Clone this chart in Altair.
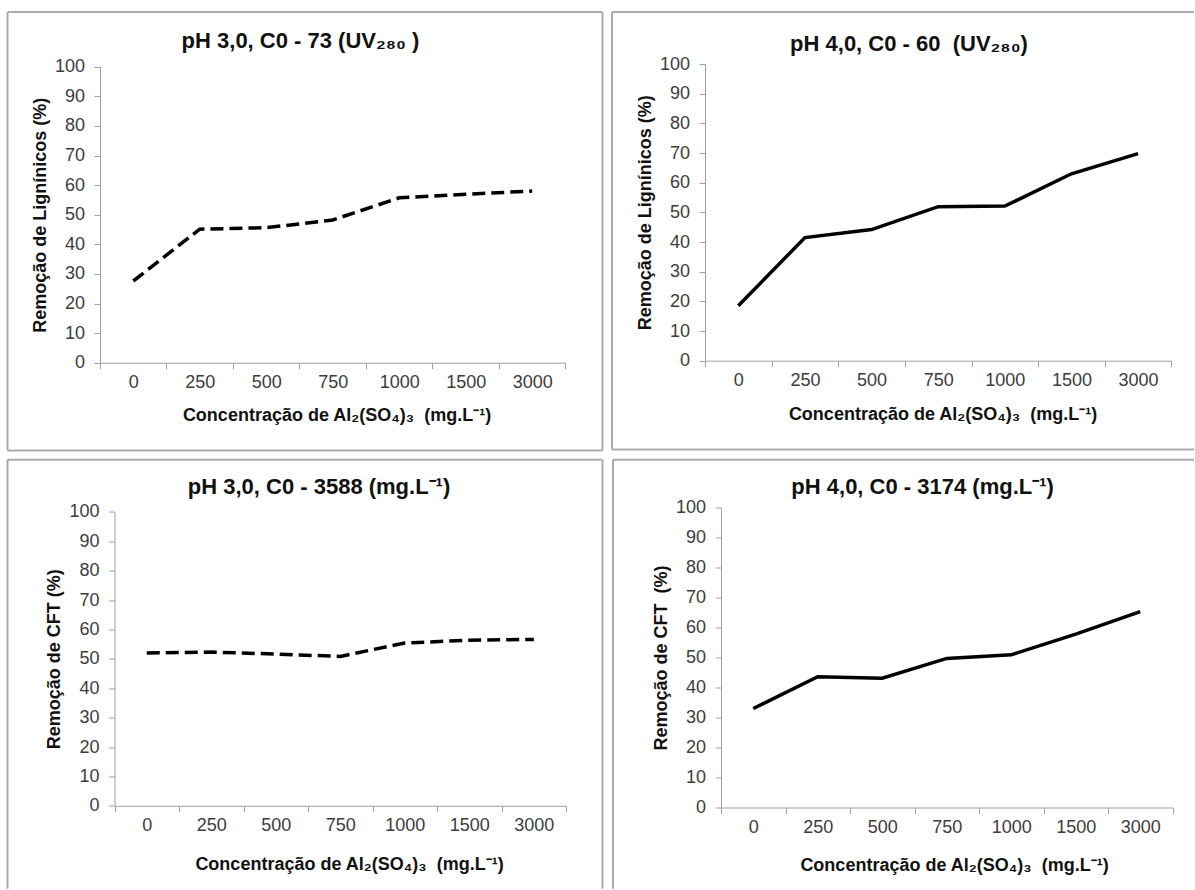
import altair as alt
import pandas as pd

# ---------------- data ----------------
categories = ["0", "250", "500", "750", "1000", "1500", "3000"]
lig_ph3 = [27.6, 45.1, 45.6, 48.2, 55.7, 56.9, 58.0]
lig_ph4 = [18.5, 41.5, 44.2, 51.9, 52.1, 63.0, 69.8]
cft_ph3 = [52.0, 52.3, 51.6, 50.8, 55.4, 56.3, 56.6]
cft_ph4 = [33.0, 43.6, 43.1, 49.7, 50.9, 57.8, 65.3]
y_ticks = [0, 10, 20, 30, 40, 50, 60, 70, 80, 90, 100]

NB = "\u00a0"
panel_titles = [
    "pH 3,0, C0 - 73 (UV₂₈₀" + NB + ")",
    "pH 4,0, C0 - 60" + NB + " (UV₂₈₀)",
    "pH 3,0, C0 - 3588 (mg.L⁻¹)",
    "pH 4,0, C0 - 3174 (mg.L⁻¹)",
]
x_title = "Concentração de Al₂(SO₄)₃" + NB + " (mg.L⁻¹)"
y_titles = [
    "Remoção de Lignínicos (%)",
    "Remoção de Lignínicos (%)",
    "Remoção de CFT (%)",
    "Remoção de CFT" + NB + " (%)",
]

FONT = "Liberation Sans"
AXIS_COLOR = "#a0a0a0"
LABEL_COLOR = "#3c3c3c"
TEXT_COLOR = "#111111"
BORDER = "#ababab"


def panel(values, dashed, title, ytitle, g):
    df = pd.DataFrame({"c": categories, "v": values})
    w, h = g["w"], g["h"]
    xr = g.get("xr", [0, w])
    yr = g.get("yr", [h, 0])

    x_axis = alt.Axis(
        title=x_title, tickBand="extent", labelAngle=0, grid=False,
        domainColor=AXIS_COLOR, tickColor=AXIS_COLOR, tickSize=6,
        labelFont=FONT, labelFontSize=18, labelColor=LABEL_COLOR, labelPadding=4.5,
        titleFont=FONT, titleFontSize=18, titleFontWeight="bold", titleColor=TEXT_COLOR,
        titleX=g["tx"], titleY=g["ty"], titleBaseline="middle", titleAlign="center",
        zindex=1,
    )
    y_axis_kw = dict(
        title=ytitle, values=y_ticks, grid=False,
        domainColor=AXIS_COLOR, tickColor=AXIS_COLOR, tickSize=6,
        labelFont=FONT, labelFontSize=18, labelColor=LABEL_COLOR, labelPadding=9.5,
        titleFont=FONT, titleFontSize=18, titleFontWeight="bold", titleColor=TEXT_COLOR,
        titleX=-60, titleY=(yr[0] + yr[1]) / 2, titleBaseline="middle", titleAlign="center",
        zindex=1,
    )
    if g.get("yoff"):
        y_axis_kw["offset"] = g["yoff"]
    y_axis = alt.Axis(**y_axis_kw)

    line_kw = dict(color="#000000", strokeWidth=3.5, interpolate="linear", strokeCap="butt")
    if dashed:
        line_kw["strokeDash"] = [13, 6]

    line = alt.Chart(df).mark_line(**line_kw).encode(
        x=alt.X("c:N", sort=categories, bandPosition=0.5,
                scale=alt.Scale(type="band", paddingInner=0, paddingOuter=0, range=xr),
                axis=x_axis),
        y=alt.Y("v:Q", scale=alt.Scale(domain=[0, 100], range=yr, nice=False), axis=y_axis),
    )

    one = pd.DataFrame({"t": [title]})
    layers = []
    # panel frame: horizontal and vertical segments
    for (x1, x2, y) in g["hseg"]:
        layers.append(alt.Chart(one).mark_rule(color=BORDER, strokeWidth=2).encode(
            x=alt.value(x1), x2=alt.value(x2), y=alt.value(y)))
    for (x, y1, y2) in g["vseg"]:
        layers.append(alt.Chart(one).mark_rule(color=BORDER, strokeWidth=2).encode(
            x=alt.value(x), y=alt.value(y1), y2=alt.value(y2)))
    ttl = alt.Chart(one).mark_text(
        font=FONT, fontSize=22, fontWeight="bold", color=TEXT_COLOR,
        align="center", baseline="alphabetic",
    ).encode(text="t:N", x=alt.value(g["cx"]), y=alt.value(g["cy"]))

    return alt.layer(*layers, line, ttl).properties(width=w, height=h)


# frame segments are given relative to each panel's plot origin
geo_tl = dict(w=465.4, h=298.7, yr=[298.7, 2.7],
              hseg=[(-92.5, 502.5, -52), (-92.5, 502.5, 386.5)],
              vseg=[(-92.5, -52, 386.5), (502.5, -52, 386.5)],
              cx=200.5, cy=-16, tx=236.5, ty=53)
geo_tr = dict(w=466.4, h=296.7,
              hseg=[(-93, 489, -52), (-93, 489, 385.5)],
              vseg=[(-93, -52, 385.5)],
              cx=204, cy=-13.5, tx=237.5, ty=54)
geo_bl = dict(w=466.1, h=298.3, xr=[14.5, 466.1], yr=[298.3, 4.3], yoff=-14.5,
              hseg=[(-92.5, 502.5, -47.7)],
              vseg=[(-92.5, -47.7, 381.3), (502.5, -47.7, 381.3)],
              cx=219, cy=-13.7, tx=249, ty=59)
geo_br = dict(w=451.5, h=300,
              hseg=[(-108, 473, -47.7)],
              vseg=[(-108, -47.7, 381.3)],
              cx=201.6, cy=-13.7, tx=233, ty=58)

tl = panel(lig_ph3, True, panel_titles[0], y_titles[0], geo_tl)
tr = panel(lig_ph4, False, panel_titles[1], y_titles[1], geo_tr)
bl = panel(cft_ph3, True, panel_titles[2], y_titles[2], geo_bl)
br = panel(cft_ph4, False, panel_titles[3], y_titles[3], geo_br)

row1 = alt.hconcat(tl, tr, spacing=7)
row2 = alt.hconcat(bl, br, spacing=8)

chart = alt.vconcat(row1, row2, spacing=6.5).properties(
    padding={"left": 6, "top": 11, "right": 0, "bottom": 0},
    background="white",
).configure_view(strokeWidth=0)

chart.save("out.html", embed_options={"renderer": "svg", "actions": False})
